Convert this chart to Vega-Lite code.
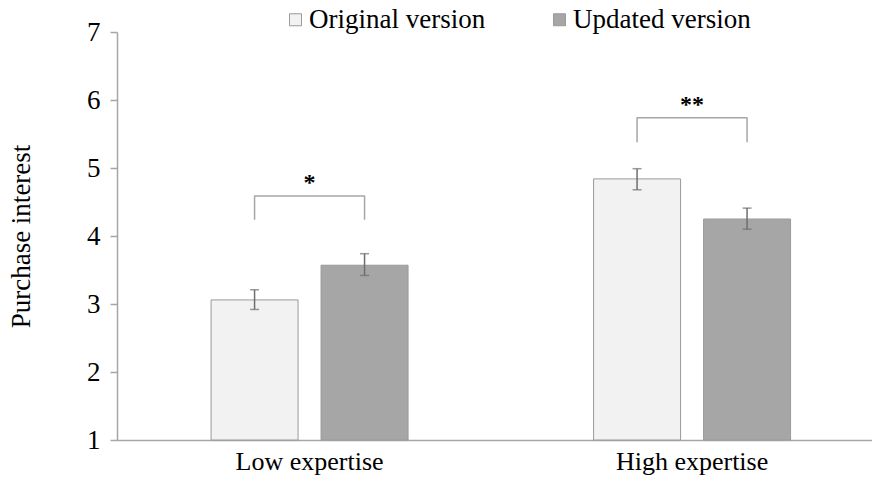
{
  "$schema": "https://vega.github.io/schema/vega-lite/v6.json",
  "width": 755,
  "height": 408,
  "autosize": {"type": "none"},
  "padding": {"left": 117, "top": 32, "right": 0, "bottom": 41},
  "background": "white",
  "config": {"view": {"stroke": null}, "font": "Liberation Serif"},
  "datasets": {
    "bars": [
      {"expertise": "Low expertise", "version": "Original version", "mean": 3.06, "lo": 2.92, "hi": 3.21},
      {"expertise": "Low expertise", "version": "Updated version", "mean": 3.57, "lo": 3.42, "hi": 3.74},
      {"expertise": "High expertise", "version": "Original version", "mean": 4.84, "lo": 4.68, "hi": 4.99},
      {"expertise": "High expertise", "version": "Updated version", "mean": 4.25, "lo": 4.10, "hi": 4.41}
    ],
    "brackets": [
      {"expertise": "Low expertise", "version": "Original version", "y": 4.24, "ord": 1},
      {"expertise": "Low expertise", "version": "Original version", "y": 4.59, "ord": 2},
      {"expertise": "Low expertise", "version": "Updated version", "y": 4.59, "ord": 3},
      {"expertise": "Low expertise", "version": "Updated version", "y": 4.24, "ord": 4},
      {"expertise": "High expertise", "version": "Original version", "y": 5.38, "ord": 1},
      {"expertise": "High expertise", "version": "Original version", "y": 5.74, "ord": 2},
      {"expertise": "High expertise", "version": "Updated version", "y": 5.74, "ord": 3},
      {"expertise": "High expertise", "version": "Updated version", "y": 5.38, "ord": 4}
    ],
    "stars": [
      {"expertise": "Low expertise", "y": 4.68, "label": "*"},
      {"expertise": "High expertise", "y": 5.82, "label": "**"}
    ]
  },
  "layer": [
    {
      "data": {"name": "bars"},
      "mark": {"type": "bar", "stroke": "#9a9a9a", "strokeWidth": 1},
      "encoding": {
        "x": {
          "field": "expertise", "type": "nominal", "title": null,
          "scale": {"domain": ["Low expertise", "High expertise"], "paddingInner": 0.485, "paddingOuter": 0.2294, "align": 0.536},
          "axis": {"domainColor": "#a6a6a6", "domainWidth": 1.5, "ticks": false, "labelFontSize": 26, "labelColor": "black", "labelPadding": 8, "labelAngle": 0, "labelLimit": 400}
        },
        "xOffset": {
          "field": "version", "type": "nominal",
          "scale": {"domain": ["Original version", "Updated version"], "paddingInner": 0.209, "paddingOuter": 0}
        },
        "y": {
          "field": "mean", "type": "quantitative", "title": "Purchase interest",
          "scale": {"domain": [1, 7], "nice": false, "zero": false},
          "axis": {"values": [1, 2, 3, 4, 5, 6, 7], "format": "d", "grid": false, "domainColor": "#a6a6a6", "domainWidth": 1.5, "tickColor": "#a6a6a6", "tickWidth": 1.5, "tickSize": 7, "labelFontSize": 27, "labelColor": "black", "labelPadding": 10, "titleFontSize": 27, "titleFontWeight": "normal", "titleColor": "black", "titlePadding": 51}
        },
        "y2": {"datum": 1},
        "color": {
          "field": "version", "type": "nominal",
          "scale": {"domain": ["Original version", "Updated version"], "range": ["#f2f2f2", "#a6a6a6"]},
          "legend": {"title": null, "orient": "none", "legendX": 165, "legendY": -26, "direction": "horizontal", "columnPadding": 60, "labelFontSize": 27, "labelColor": "black", "labelOffset": 0, "labelLimit": 400, "symbolType": "square", "symbolSize": 144, "symbolStrokeColor": "#9a9a9a", "symbolStrokeWidth": 1}
        }
      }
    },
    {
      "data": {"name": "bars"},
      "mark": {"type": "rule", "color": "#6e6e6e", "strokeWidth": 1.5},
      "encoding": {
        "x": {"field": "expertise", "type": "nominal"},
        "xOffset": {"field": "version", "type": "nominal"},
        "y": {"field": "lo", "type": "quantitative"},
        "y2": {"field": "hi"}
      }
    },
    {
      "data": {"name": "bars"},
      "mark": {"type": "tick", "color": "#6e6e6e", "thickness": 1.5, "size": 9},
      "encoding": {
        "x": {"field": "expertise", "type": "nominal"},
        "xOffset": {"field": "version", "type": "nominal"},
        "y": {"field": "lo", "type": "quantitative"}
      }
    },
    {
      "data": {"name": "bars"},
      "mark": {"type": "tick", "color": "#6e6e6e", "thickness": 1.5, "size": 9},
      "encoding": {
        "x": {"field": "expertise", "type": "nominal"},
        "xOffset": {"field": "version", "type": "nominal"},
        "y": {"field": "hi", "type": "quantitative"}
      }
    },
    {
      "data": {"name": "brackets"},
      "mark": {"type": "line", "color": "#a6a6a6", "strokeWidth": 1.5, "strokeJoin": "round"},
      "encoding": {
        "x": {"field": "expertise", "type": "nominal"},
        "xOffset": {"field": "version", "type": "nominal"},
        "y": {"field": "y", "type": "quantitative"},
        "detail": {"field": "expertise"},
        "order": {"field": "ord", "type": "quantitative"}
      }
    },
    {
      "data": {"name": "stars"},
      "mark": {"type": "text", "fontSize": 24, "fontWeight": "bold", "baseline": "alphabetic", "color": "black"},
      "encoding": {
        "x": {"field": "expertise", "type": "nominal"},
        "y": {"field": "y", "type": "quantitative"},
        "text": {"field": "label"}
      }
    }
  ]
}
